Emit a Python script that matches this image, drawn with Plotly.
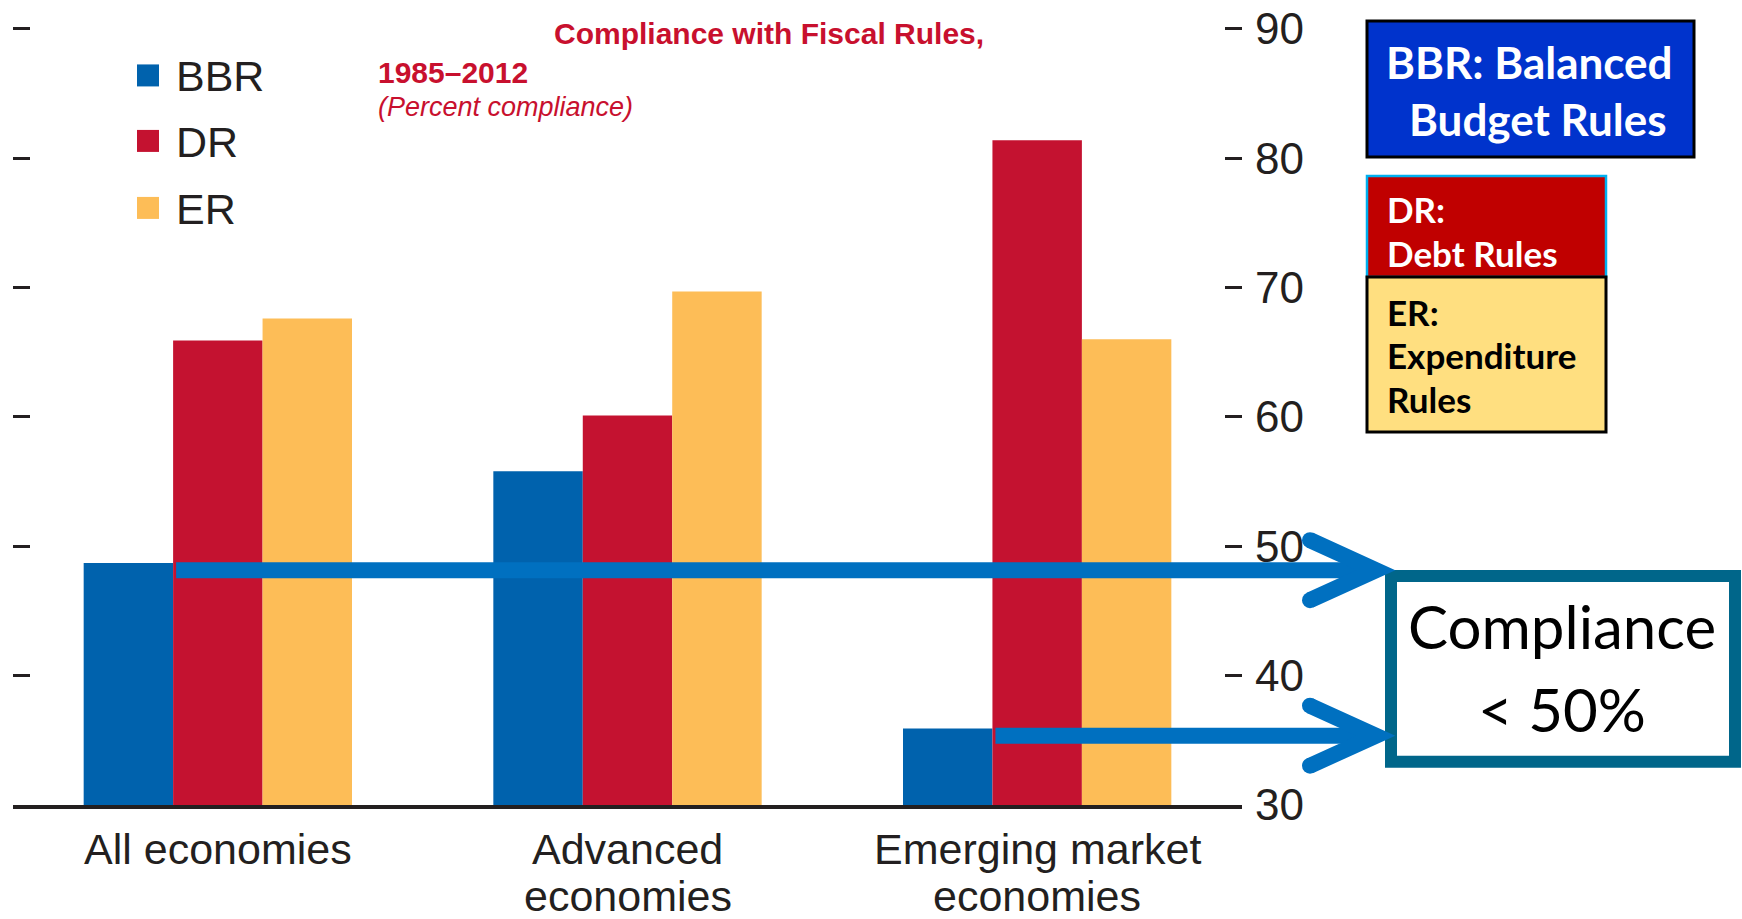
import plotly.graph_objects as go

# ---------------- data ----------------
categories = ["All economies", "Advanced economies", "Emerging market economies"]
category_lines = [["All economies"], ["Advanced", "economies"], ["Emerging market", "economies"]]
series_names = ["BBR", "DR", "ER"]
bbr = [48.7, 55.8, 35.9]
dr = [65.9, 60.1, 81.4]
er = [67.6, 69.7, 66.0]
y_ticks = [30, 40, 50, 60, 70, 80, 90]
threshold = 50

title_line1 = "Compliance with Fiscal Rules,"
title_line2 = "1985\u20132012"
title_line3 = "(Percent compliance)"

box_texts = {
    "BBR": ["BBR: Balanced", "Budget Rules"],
    "DR": ["DR:", "Debt Rules"],
    "ER": ["ER:", "Expenditure", "Rules"],
}
callout = ["Compliance", "&lt; 50%"]

# ---------------- style ----------------
colors = ["#0062AD", "#C41230", "#FDBD57"]
title_red = "#C8102E"
ink = "#231F20"
arrow_blue = "#0070C0"
W, H = 1742, 919
OFF = 0  # body margin removed below
Y_LO, Y_HI = y_ticks[0] - 0.01, y_ticks[-1] + 1.0
UNIT_PX = (805 - 29) / (y_ticks[-1] - y_ticks[0])
PLOT_L, PLOT_R, PLOT_B = 13, 1242, 805 + (y_ticks[0] - Y_LO) * UNIT_PX
PLOT_T = PLOT_B - (Y_HI - Y_LO) * UNIT_PX
L = PLOT_L - OFF
T = PLOT_T - OFF
R = W - (PLOT_R - OFF)
B = H - (PLOT_B - OFF)
PW, PH = PLOT_R - PLOT_L, PLOT_B - PLOT_T
BARGAP = 0.345


def px(x):
    return (x - PLOT_L) / PW


def py(y):
    return (PLOT_B - y) / PH


fig = go.Figure()
for name, vals, col in zip(series_names, [bbr, dr, er], colors):
    fig.add_trace(go.Bar(x=categories, y=vals, name=name, marker=dict(color=col, line=dict(width=0)),
                         showlegend=False))

shapes = []
annotations = []
axis_font = "Arial, Liberation Sans"

# category labels (one annotation per line)
for i, lines in enumerate(category_lines):
    for j, txt in enumerate(lines):
        annotations.append(dict(text=txt, xref="x", yref="paper", x=i, y=py(849 + 47 * j),
                                xanchor="center", yanchor="middle", showarrow=False,
                                font=dict(family=axis_font, size=43, color=ink)))

# custom legend
leg_y = [75.5, 141, 208]
for name, col, yy in zip(series_names, colors, leg_y):
    shapes.append(dict(type="rect", xref="paper", yref="paper", x0=px(137), x1=px(159),
                       y0=py(yy + 11), y1=py(yy - 11), fillcolor=col, line=dict(width=0)))
    annotations.append(dict(text=name, xref="paper", yref="paper", x=px(174), y=py(yy + 1),
                            xanchor="left", yanchor="middle", showarrow=False,
                            font=dict(family=axis_font, size=43, color=ink)))

# titles
annotations.append(dict(text="<b>" + title_line1 + "</b>", xref="paper", yref="paper", x=px(552), y=py(34),
                        xanchor="left", yanchor="middle", showarrow=False,
                        font=dict(family=axis_font, size=30, color=title_red)))
annotations.append(dict(text="<b>" + title_line2 + "</b>", xref="paper", yref="paper", x=px(376), y=py(73),
                        xanchor="left", yanchor="middle", showarrow=False,
                        font=dict(family=axis_font, size=30, color=title_red)))
annotations.append(dict(text="<i>" + title_line3 + "</i>", xref="paper", yref="paper", x=px(376), y=py(107),
                        xanchor="left", yanchor="middle", showarrow=False,
                        font=dict(family=axis_font, size=27, color=title_red)))

# right-hand explanatory boxes
shapes.append(dict(type="rect", xref="paper", yref="paper", x0=px(1367), x1=px(1694), y0=py(157), y1=py(21),
                   fillcolor="#0033CC", line=dict(color="#000000", width=3)))
shapes.append(dict(type="rect", xref="paper", yref="paper", x0=px(1367), x1=px(1606), y0=py(277), y1=py(176),
                   fillcolor="#C00000", line=dict(color="#00B0F0", width=2.5)))
shapes.append(dict(type="rect", xref="paper", yref="paper", x0=px(1367), x1=px(1606), y0=py(432), y1=py(277),
                   fillcolor="#FFDF80", line=dict(color="#000000", width=3)))

box_font = "Lato, Carlito, Open Sans, sans-serif"
annotations.append(dict(text="<b>" + box_texts["BBR"][0] + "</b>", xref="paper", yref="paper", x=px(1529), y=py(62),
                        xanchor="center", yanchor="middle", showarrow=False,
                        font=dict(family=box_font, size=44, color="white")))
annotations.append(dict(text="<b>" + box_texts["BBR"][1] + "</b>", xref="paper", yref="paper", x=px(1538), y=py(119),
                        xanchor="center", yanchor="middle", showarrow=False,
                        font=dict(family=box_font, size=44, color="white")))
for txt, yy in zip(box_texts["DR"], [209, 253]):
    annotations.append(dict(text="<b>" + txt + "</b>", xref="paper", yref="paper", x=px(1385), y=py(yy),
                            xanchor="left", yanchor="middle", showarrow=False,
                            font=dict(family=box_font, size=35, color="white")))
for txt, yy in zip(box_texts["ER"], [312, 355, 399]):
    annotations.append(dict(text="<b>" + txt + "</b>", xref="paper", yref="paper", x=px(1385), y=py(yy),
                            xanchor="left", yanchor="middle", showarrow=False,
                            font=dict(family=box_font, size=35, color="black")))

# callout box
shapes.append(dict(type="rect", xref="paper", yref="paper", x0=px(1391), x1=px(1735), y0=py(762), y1=py(576),
                   fillcolor="white", line=dict(color="#00668A", width=12)))
for txt, yy in zip(callout, [626, 709]):
    annotations.append(dict(text=txt, xref="paper", yref="paper", x=px(1562), y=py(yy),
                            xanchor="center", yanchor="middle", showarrow=False,
                            font=dict(family=box_font, size=60, color="black")))

# arrows from bars below the threshold
bar_w = (1 - BARGAP) / 3
tip_x = px(1376)
arm_x = px(1310)
arm_dy = 30 / UNIT_PX
for i, v in enumerate(bbr):
    if v < threshold:
        y_arrow = v - 0.55
        x_start = (i - (1 - BARGAP) / 2 + bar_w + 0.5) / 3 + 3 / PW
        shapes.append(dict(type="line", xref="paper", yref="y", x0=x_start, x1=px(1366),
                           y0=y_arrow, y1=y_arrow, line=dict(color=arrow_blue, width=16)))
        shapes.append(dict(type="path", xref="paper", yref="y",
                           path=f"M {arm_x},{y_arrow + arm_dy} L {tip_x},{y_arrow} L {arm_x},{y_arrow - arm_dy}",
                           line=dict(color=arrow_blue, width=16)))
        for sgn in (1, -1):
            shapes.append(dict(type="circle", xref="paper", yref="y", xsizemode="pixel", ysizemode="pixel",
                               xanchor=arm_x, yanchor=y_arrow + sgn * arm_dy,
                               x0=-8, x1=8, y0=-8, y1=8, fillcolor=arrow_blue, line=dict(width=0)))

fig.update_layout(
    width=W, height=H,
    margin=dict(l=L, r=R, t=T, b=B, pad=0, autoexpand=False),
    paper_bgcolor="white", plot_bgcolor="white",
    barmode="group", bargap=BARGAP, bargroupgap=0,
    showlegend=False,
    shapes=shapes, annotations=annotations,
    xaxis=dict(showgrid=False, zeroline=False, showline=True, linecolor=ink, linewidth=4,
               ticks="", showticklabels=False, range=[-0.5, 2.5], fixedrange=True, automargin=False),
    yaxis=dict(side="right", range=[Y_LO, Y_HI], tickvals=y_ticks,
               ticks="inside", ticklen=17, tickwidth=3, tickcolor=ink, mirror="ticks",
               showline=False, showgrid=False, zeroline=False, ticklabeloverflow="allow",
               tickfont=dict(family=axis_font, size=44, color=ink),
               ticklabelstandoff=12, fixedrange=True, automargin=False),
)

fig.write_html("out.html", config={"displayModeBar": False},
               post_script="document.body.style.margin='0';document.body.style.overflow='hidden';")
